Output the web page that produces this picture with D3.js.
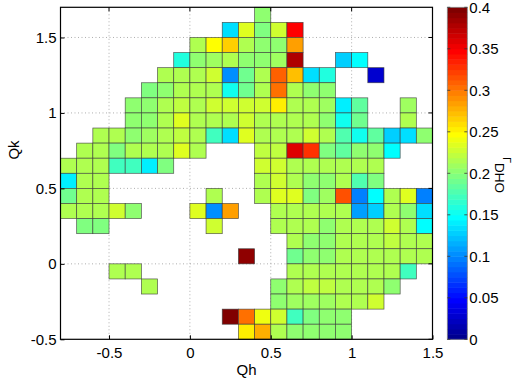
<!DOCTYPE html>
<html><head><meta charset="utf-8">
<script src="https://cdn.jsdelivr.net/npm/d3@7"></script>
<style>
body{margin:0;background:#fff;}
svg{display:block;}
text{font-family:"Liberation Sans",Arial,sans-serif;fill:#000;}
</style>
</head><body>
<svg id="c" width="516" height="381"></svg>
<script>
const _ = null;
// left edges of Qh bins
const qhEdges = [-0.8,-0.7,-0.6,-0.5,-0.4,-0.3,-0.2,-0.1,0,0.1,0.2,0.3,0.4,0.5,0.6,0.7,0.8,0.9,1.0,1.1,1.2,1.3,1.4];
// bottom edges of Qk bins (top row first)
const qkEdges = [1.6,1.5,1.4,1.3,1.2,1.1,1.0,0.9,0.8,0.7,0.6,0.5,0.4,0.3,0.2,0.1,0.0,-0.1,-0.2,-0.3,-0.4,-0.5];
const binW = 0.1;
// Gamma_DHO values, rows = qkEdges, columns = qhEdges
const dho = [
[_,_,_,_,_,_,_,_,_,_,_,_,.205,_,_,_,_,_,_,_,_,_,_],
[_,_,_,_,_,_,_,_,_,_,.135,.235,.195,.225,.345,_,_,_,_,_,_,_,_],
[_,_,_,_,_,_,_,_,.215,.245,.265,.215,.205,.2,.287,_,_,_,_,_,_,_,_],
[_,_,_,_,_,_,_,.16,.205,.21,.215,.2,.2,.21,.38,_,_,.128,.148,_,_,_,_],
[_,_,_,_,_,_,.215,.215,.215,.225,.106,.188,.215,.31,.27,.135,.16,_,_,.03,_,_,_],
[_,_,_,_,_,.195,.205,.215,.215,.215,.155,.19,.215,.305,.215,.205,.205,_,_,_,_,_,_],
[_,_,_,_,.2,.205,.215,.22,.215,.23,.225,.225,.225,.25,.215,.215,.21,.14,.185,_,_,.21,_],
[_,_,_,_,.205,.205,.215,.235,.215,.215,.215,.23,.215,.215,.215,.215,.205,.155,.19,_,_,.215,_],
[_,_,.215,.215,.2,.21,.215,.22,.215,.17,.135,.235,.215,.215,.215,.225,.215,.18,.155,.185,.13,.135,.205],
[_,.215,.215,.195,.215,.215,.215,.235,.215,_,_,_,.22,.22,.36,.325,.195,.185,.205,.2,.15,_,_],
[.215,.215,.215,.17,.17,.14,.195,_,_,_,_,_,.225,.225,.215,.215,.215,.215,.215,.215,_,_,_],
[.138,.215,.215,_,_,_,_,_,_,_,_,_,.215,.225,.215,.2,.205,.215,.18,.195,_,_,_],
[.19,.215,.215,_,_,_,_,_,_,.215,_,_,.215,.235,.235,.195,.21,.315,.094,.15,.215,.235,.096],
[.215,.215,.215,.225,.205,_,_,_,.235,.105,.285,_,_,.215,.215,.215,.215,.215,.11,.13,.215,.2,.132],
[_,.195,.195,_,_,_,_,_,_,.225,_,_,_,.215,.215,.215,.205,.215,.215,.215,.225,.215,.15],
[_,_,_,_,_,_,_,_,_,_,_,_,_,_,.215,.205,.205,.215,.215,.215,.22,.215,.215],
[_,_,_,_,_,_,_,_,_,_,_,.39,_,_,.19,.205,.2,.215,.215,.215,.215,.215,.215],
[_,_,_,.215,.215,_,_,_,_,_,_,_,_,_,.215,.215,.215,.215,.215,.215,.215,.175,_],
[_,_,_,_,_,.215,_,_,_,_,_,_,_,.205,.215,.22,.22,.215,.215,.215,.205,_,_],
[_,_,_,_,_,_,_,_,_,_,_,_,_,.205,.21,.21,.21,.215,.215,.225,_,_,_],
[_,_,_,_,_,_,_,_,_,_,.395,.305,.24,.225,.17,.195,.2,.205,_,_,_,_,_],
[_,_,_,_,_,_,_,_,_,_,_,.25,.28,.215,.205,.205,.205,.205,_,_,_,_,_]
];
const xTicks = [-0.5,0,0.5,1,1.5];
const yTicks = [-0.5,0,0.5,1,1.5];
const cTicks = [0,0.05,0.1,0.15,0.2,0.25,0.3,0.35,0.4];
const xLabel = "Qh", yLabel = "Qk";

const svg = d3.select('#c');
svg.append('rect').attr('width',516).attr('height',381).attr('fill','#fff');
const L=60.5,R=432.5,T=7.3,B=339.3;
const x = d3.scaleLinear().domain([-0.8,1.5]).range([L,R]);
const y = d3.scaleLinear().domain([-0.5,1.7]).range([B,T]);

function jetRaw(t){
  const c=v=>Math.max(0,Math.min(1,v));
  const r=c(Math.min(4*t-1.5,-4*t+4.5)), g=c(Math.min(4*t-0.5,-4*t+3.5)), b=c(Math.min(4*t+0.5,-4*t+2.5));
  return d3.rgb(r*255,g*255,b*255).toString();
}
function jet64(t){ const i=Math.max(1,Math.min(64,Math.floor(t*64)+1)); return jetRaw(i/64); }
const cScale = d3.scaleLinear().domain([0,0.4]).range([0,1]).clamp(true);
const color = v => jet64(cScale(v));

// grid
const grid = svg.append('g');
xTicks.filter(d=>d>-0.8&&d<1.5).forEach(d=>{
  grid.append('line').attr('x1',x(d)).attr('x2',x(d)).attr('y1',T).attr('y2',B)
   .attr('stroke','#9a9a9a').attr('stroke-width',0.8).attr('stroke-dasharray','1,2.5');
});
yTicks.filter(d=>d>-0.5&&d<1.7).forEach(d=>{
  grid.append('line').attr('y1',y(d)).attr('y2',y(d)).attr('x1',L).attr('x2',R)
   .attr('stroke','#9a9a9a').attr('stroke-width',0.8).attr('stroke-dasharray','1,2.5');
});

// cells
const cells = [];
dho.forEach((row,ri)=>row.forEach((v,ci)=>{ if(v!==null) cells.push({qh:qhEdges[ci],qk:qkEdges[ri],v}); }));
svg.append('g').selectAll('rect').data(cells).join('rect')
  .attr('x',d=>x(d.qh)).attr('y',d=>y(d.qk+binW))
  .attr('width',d=>x(d.qh+binW)-x(d.qh)).attr('height',d=>y(d.qk)-y(d.qk+binW))
  .attr('fill',d=>color(d.v)).attr('stroke','#3c3c3c').attr('stroke-width',0.7).attr('stroke-opacity',0.85);

// axes
const fmt = d=>String(d);
const FS = 15;
const gx = svg.append('g').attr('transform',`translate(0,${B})`)
  .call(d3.axisBottom(x).tickValues(xTicks).tickFormat(fmt).tickSizeInner(-4).tickSizeOuter(0).tickPadding(8));
const gy = svg.append('g').attr('transform',`translate(${L},0)`)
  .call(d3.axisLeft(y).tickValues(yTicks).tickFormat(fmt).tickSizeInner(-4).tickSizeOuter(0).tickPadding(4));
[gx,gy].forEach(g=>{ g.select('.domain').remove(); g.selectAll('text').attr('font-size',FS).attr('font-family','Liberation Sans, Arial, sans-serif'); g.selectAll('line').attr('stroke','#000'); });
// top/right ticks
svg.append('g').selectAll('line').data(xTicks).join('line')
  .attr('x1',d=>x(d)).attr('x2',d=>x(d)).attr('y1',T).attr('y2',T+4).attr('stroke','#000');
svg.append('g').selectAll('line').data(yTicks).join('line')
  .attr('y1',d=>y(d)).attr('y2',d=>y(d)).attr('x1',R).attr('x2',R-4).attr('stroke','#000');
svg.append('rect').attr('x',L).attr('y',T).attr('width',R-L).attr('height',B-T)
  .attr('fill','none').attr('stroke','#000').attr('stroke-width',1.2);

svg.append('text').attr('x',(L+R)/2).attr('y',375).attr('text-anchor','middle').attr('font-size',FS).text(xLabel);
svg.append('text').attr('transform','translate(19,150) rotate(-90)').attr('text-anchor','middle').attr('font-size',FS).text(yLabel);

// colorbar
const CL=447.3, CR=467.3;
const cy = d3.scaleLinear().domain([0,0.4]).range([B,T]);
const nSteps=64;
const steps = d3.range(nSteps);
svg.append('g').selectAll('rect').data(steps).join('rect')
  .attr('x',CL).attr('width',CR-CL)
  .attr('y',i=>cy((i+1)/nSteps*0.4)).attr('height',i=>cy(i/nSteps*0.4)-cy((i+1)/nSteps*0.4)+0.5)
  .attr('fill',i=>jetRaw((i+1)/nSteps));
svg.append('rect').attr('x',CL).attr('y',T).attr('width',CR-CL).attr('height',B-T)
  .attr('fill','none').attr('stroke','#888').attr('stroke-width',0.8);
const gc = svg.append('g');
cTicks.forEach(d=>{
  gc.append('line').attr('x1',CR).attr('x2',CR-3).attr('y1',cy(d)).attr('y2',cy(d)).attr('stroke','#333').attr('stroke-width',0.8);
  gc.append('line').attr('x1',CL).attr('x2',CL+3).attr('y1',cy(d)).attr('y2',cy(d)).attr('stroke','#333').attr('stroke-width',0.8);
  gc.append('text').attr('x',CR+2).attr('y',cy(d)).attr('dy','0.35em').attr('font-size',FS).text(String(d));
});
const cl = svg.append('text').attr('transform','translate(503,157) rotate(90)');
cl.append('tspan').attr('font-size',11).text('Γ');
cl.append('tspan').attr('font-size',13.5).attr('dy',8).text('DHO');
</script>
</body></html>
